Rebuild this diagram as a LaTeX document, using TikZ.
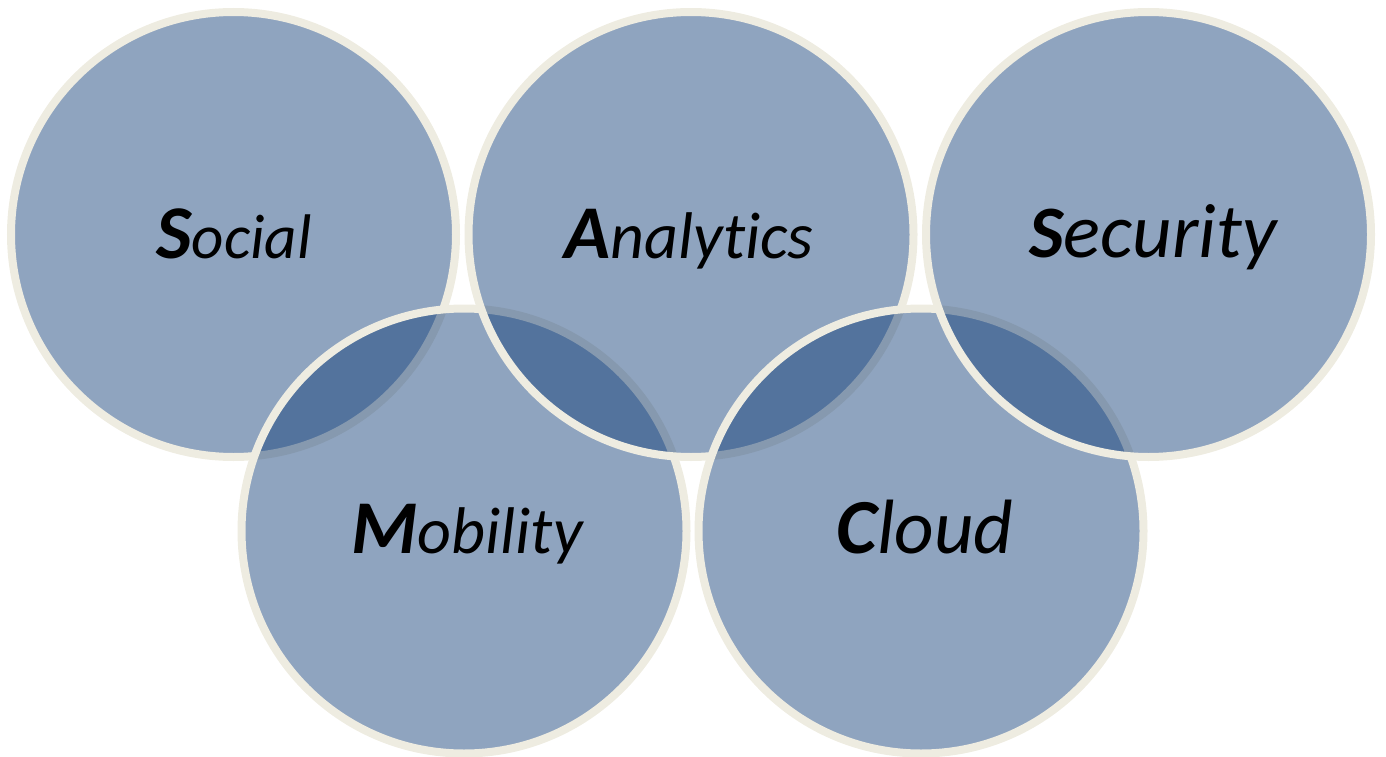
\documentclass[tikz,border=0pt]{standalone}
\usepackage{fontspec}
\newfontfamily\ringfont[RawFeature={-liga}]{Carlito}
\definecolor{ringfill}{RGB}{17,61,119}
\definecolor{ringedge}{RGB}{238,236,225}
% bold initial at size #1, rest of the word at size #2
\newcommand{\ringword}[4]{{\bfseries\fontsize{#1}{#1}\selectfont #3}{\fontsize{#2}{#2}\selectfont #4}}
\tikzset{
  ring/.style={circle, minimum size=445pt, inner sep=0pt, outer sep=0pt,
    fill=ringfill, fill opacity=0.47, draw=ringedge, line width=8pt},
  ringlabel/.style={anchor=base, inner sep=0pt, font=\ringfont\itshape}
}
\begin{document}
\begin{tikzpicture}[x=1pt,y=-1pt]
\useasboundingbox (0,0) rectangle (1386,757);
% circles, painted in zigzag order so each later rim lies over the earlier fill
\node[ring] (social)    at (233.5,234.5) {};
\node[ring] (mobility)  at (464,531) {};
\node[ring] (analytics) at (691,234.5) {};
\node[ring] (cloud)     at (921,531) {};
\node[ring] (security)  at (1148.5,234.5) {};
% labels
\node[ringlabel] (socialtxt)    at (234,258)  {\ringword{76}{63}{S}{ocial}};
\node[ringlabel] (analyticstxt) at (689,258)  {\ringword{76}{66}{A}{nalytics}};
\node[ringlabel] (securitytxt)  at (1153,257) {\ringword{74}{77}{S}{ecurity}};
\node[ringlabel] (mobilitytxt)  at (467,553)  {\ringword{76}{66}{M}{obility}};
\node[ringlabel] (cloudtxt)     at (925,553)  {\ringword{78}{77}{C}{loud}};
\end{tikzpicture}
\end{document}
